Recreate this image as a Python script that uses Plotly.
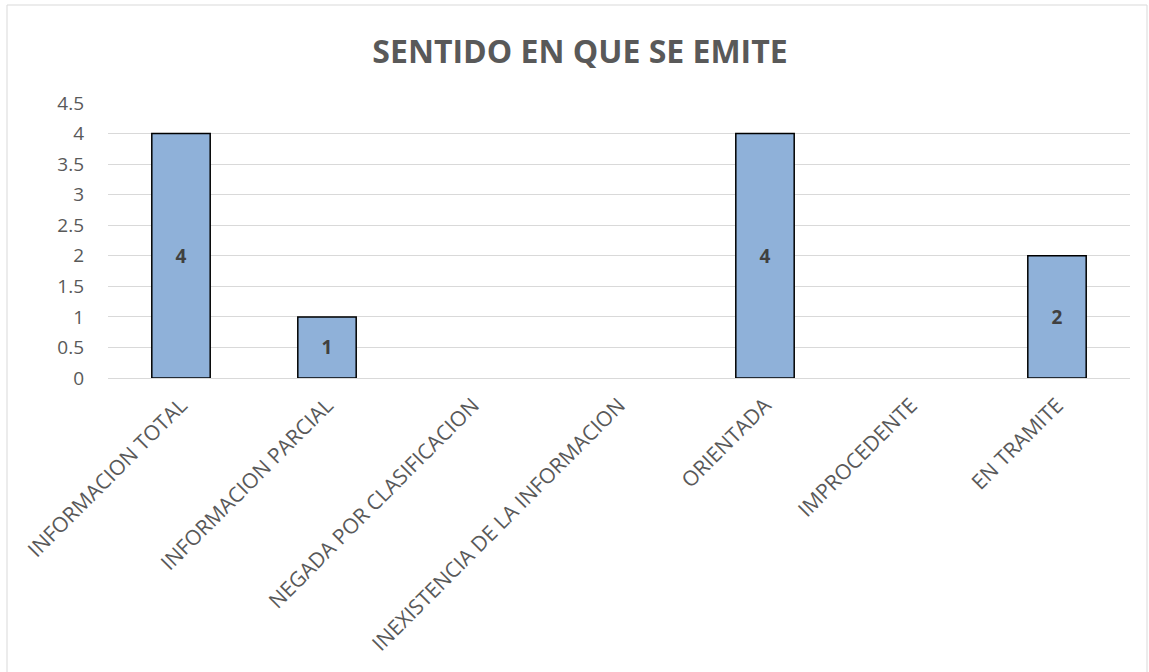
import plotly.graph_objects as go

categories = ["INFORMACION TOTAL", "INFORMACION PARCIAL", "NEGADA POR CLASIFICACION",
              "INEXISTENCIA DE LA INFORMACION", "ORIENTADA", "IMPROCEDENTE", "EN TRAMITE"]
values = [4, 1, 0, 0, 4, 0, 2]
labels = [str(v) if v else "" for v in values]
y_ticks = [0, 0.5, 1, 1.5, 2, 2.5, 3, 3.5, 4, 4.5]
y_tick_text = ["0", "0.5", "1", "1.5", "2", "2.5", "3", "3.5", "4", "4.5"]

W, H = 1149, 672
L, R, T, B = 108, 19, 103, 294
pw, ph = W - L - R, H - T - B

fig = go.Figure(go.Bar(
    x=categories, y=values, text=labels,
    textposition="inside", insidetextanchor="middle",
    textfont=dict(family="Open Sans", size=19, color="#404040", weight="bold"),
    marker=dict(color="#8FB1D9",
                line=dict(color="#000000", width=[1.5 if v else 0 for v in values])),
    cliponaxis=False,
))

fig.update_layout(
    width=W, height=H,
    margin=dict(l=L, r=R, t=T, b=B, autoexpand=False),
    paper_bgcolor="white", plot_bgcolor="white",
    bargap=0.6,
    showlegend=False,
    title=dict(text="<b>SENTIDO EN QUE SE EMITE</b>", x=580 / W, xanchor="center",
               y=1 - 52 / H, yanchor="middle",
               font=dict(family="Open Sans", size=32, color="#595959")),
    font=dict(family="Open Sans", size=19, color="#595959"),
    xaxis=dict(tickangle=-45, showgrid=False, showline=False, ticks="",
               ticklabelstandoff=10,
               tickfont=dict(size=21, color="#595959")),
    yaxis=dict(range=[0, 4.5], tickvals=y_ticks, ticktext=y_tick_text,
               showgrid=True, gridcolor="#D9D9D9", gridwidth=1,
               zeroline=True, zerolinecolor="#D9D9D9", zerolinewidth=1,
               showline=False, ticks="", ticklabelstandoff=23,
               tickfont=dict(size=19, color="#595959")),
    shapes=[dict(type="rect", xref="paper", yref="paper",
                 x0=(7 - L) / pw, x1=(1147 - L) / pw,
                 y0=-(H + 5 - T - ph) / ph, y1=1 + (T - 5) / ph,
                 line=dict(color="#D9D9D9", width=1), layer="below")],
)

fig.write_html("out.html", config={"displayModeBar": False},
               post_script="document.body.style.margin='0';document.body.style.padding='0';")
